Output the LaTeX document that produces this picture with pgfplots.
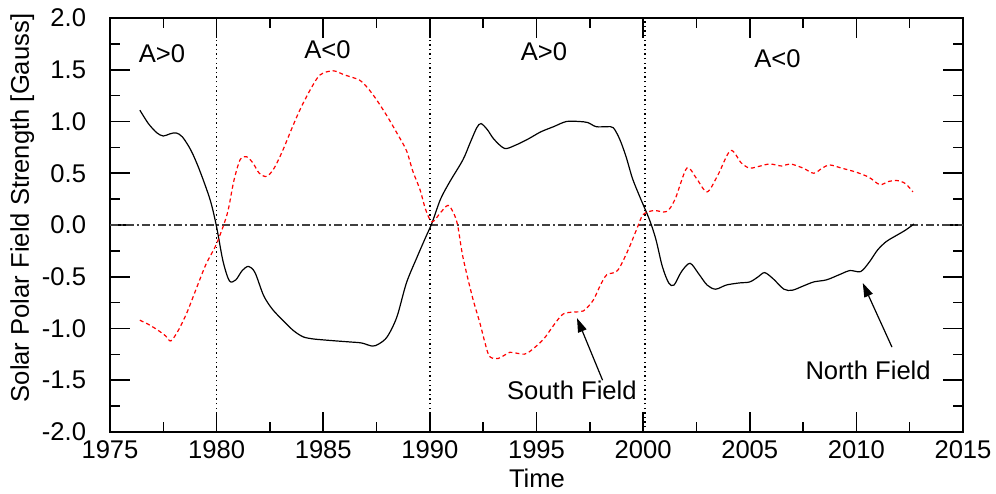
\documentclass[border=0pt]{standalone}
\usepackage{pgfplots}
\pgfplotsset{compat=1.18}
\usepackage{fontspec}
\setmainfont{Liberation Sans}
\usetikzlibrary{arrows.meta}
\newcommand{\chartfont}{\fontsize{12.8}{15}\selectfont}
\begin{document}
\chartfont
\begin{tikzpicture}
\begin{axis}[
  scale only axis, width=426.5pt, height=207pt,
  xmin=1975, xmax=2015, ymin=-2, ymax=2,
  xtick={1975,1980,...,2015}, ytick={-2,-1.5,...,2},
  minor x tick num=1, minor y tick num=1,
  tick align=inside, tick pos=both,
  major tick length=10pt, minor tick length=5pt,
  axis line style={line width=0.8pt}, every tick/.style={black, line width=0.8pt},
  /pgf/number format/assume math mode=true,
  xticklabel style={/pgf/number format/1000 sep={}, font=\chartfont},
  yticklabel style={/pgf/number format/fixed, /pgf/number format/fixed zerofill, /pgf/number format/precision=1, xshift=-7.5pt, font=\chartfont},
  xlabel={Time}, ylabel={Solar Polar Field Strength [Gauss]},
  xlabel style={at={(axis description cs:0.5006,-0.111)}, anchor=center, font=\chartfont},
  ylabel style={at={(axis description cs:-0.103,0.541)}, anchor=center, font=\chartfont},
  every node/.append style={font=\chartfont},
  clip=false,
]
% reference lines
\addplot[color=black!75, line width=0.7pt, dash pattern=on 4pt off 1.5pt on 1pt off 1.5pt] coordinates {(1975,0) (2015,0)};
\addplot[black, line width=0.8pt, dash pattern=on 0.7pt off 1.6pt] coordinates {(1980,-2) (1980,2)};
\addplot[black, line width=0.8pt, dash pattern=on 0.7pt off 1.6pt] coordinates {(1990,-2) (1990,2)};
\addplot[black, line width=0.8pt, dash pattern=on 0.7pt off 1.6pt] coordinates {(2000.1,-2) (2000.1,2)};
% North field
\addplot[black, line width=0.6pt, smooth, tension=0.5] coordinates {
(1976.4,1.11) (1976.8,0.98) (1977.2,0.89) (1977.5,0.86) (1977.8,0.88) (1978.1,0.89)
(1978.4,0.85) (1978.8,0.72) (1979.2,0.53) (1979.7,0.24) (1980.0,-0.02) (1980.3,-0.35)
(1980.6,-0.54) (1980.9,-0.53) (1981.2,-0.44) (1981.5,-0.40) (1981.8,-0.46) (1982.2,-0.68)
(1982.6,-0.81) (1983.1,-0.92) (1983.6,-1.02) (1984.05,-1.08) (1984.5,-1.10) (1985.0,-1.11)
(1985.6,-1.12) (1986.25,-1.13) (1986.8,-1.14) (1987.3,-1.17) (1987.6,-1.15) (1988.0,-1.08)
(1988.45,-0.89) (1988.9,-0.56) (1989.4,-0.31) (1989.8,-0.12) (1990.1,0.02) (1990.5,0.25)
(1990.94,0.42) (1991.55,0.63) (1991.9,0.80) (1992.2,0.94) (1992.4,0.98) (1992.7,0.92)
(1993.0,0.83) (1993.5,0.74) (1994.0,0.77) (1994.6,0.83) (1995.2,0.90) (1995.8,0.95)
(1996.4,1.00) (1997.0,1.00) (1997.4,0.99) (1997.8,0.95) (1998.3,0.95) (1998.6,0.94)
(1998.9,0.83) (1999.2,0.66) (1999.5,0.45) (1999.85,0.27) (2000.3,0.05) (2000.6,-0.14)
(2000.9,-0.40) (2001.2,-0.56) (2001.45,-0.58) (2001.8,-0.45) (2002.2,-0.37) (2002.6,-0.47)
(2003.0,-0.58) (2003.4,-0.62) (2003.9,-0.58) (2004.5,-0.56) (2005.0,-0.55) (2005.4,-0.50)
(2005.7,-0.46) (2006.1,-0.52) (2006.6,-0.62) (2007.0,-0.63) (2007.5,-0.59) (2008.0,-0.55)
(2008.6,-0.53) (2009.2,-0.48) (2009.7,-0.44) (2010.2,-0.45) (2010.6,-0.36) (2011.0,-0.24)
(2011.4,-0.16) (2011.8,-0.11) (2012.3,-0.05) (2012.7,0.01)
};
% South field
\addplot[red, line width=0.6pt, dash pattern=on 2pt off 1.5pt, smooth, tension=0.5] coordinates {
(1976.4,-0.92) (1976.8,-0.96) (1977.2,-1.01) (1977.6,-1.07) (1977.85,-1.12) (1978.2,-1.02)
(1978.6,-0.85) (1979.0,-0.64) (1979.5,-0.38) (1980.0,-0.18) (1980.5,0.11) (1980.8,0.42)
(1981.1,0.63) (1981.4,0.66) (1981.7,0.60) (1982.0,0.50) (1982.35,0.47) (1982.7,0.55)
(1983.1,0.72) (1983.5,0.92) (1983.9,1.11) (1984.4,1.31) (1984.85,1.45) (1985.46,1.49)
(1986.0,1.45) (1986.7,1.40) (1987.1,1.32) (1987.5,1.21) (1988.0,1.05) (1988.45,0.89)
(1988.9,0.72) (1989.2,0.52) (1989.54,0.34) (1989.8,0.15) (1990.1,0.03) (1990.5,0.12)
(1990.85,0.19) (1991.1,0.12) (1991.3,0.00) (1991.55,-0.31) (1992.0,-0.70) (1992.35,-0.95)
(1992.6,-1.15) (1992.8,-1.27) (1993.2,-1.29) (1993.75,-1.23) (1994.1,-1.24) (1994.55,-1.24)
(1995.3,-1.11) (1995.8,-0.97) (1996.25,-0.86) (1996.8,-0.84) (1997.2,-0.83) (1997.65,-0.73)
(1998.0,-0.58) (1998.3,-0.48) (1998.8,-0.44) (1999.3,-0.24) (1999.7,-0.04) (2000.0,0.10)
(2000.5,0.14) (2001.1,0.13) (2001.5,0.25) (2002.05,0.55) (2002.5,0.45) (2003.0,0.32)
(2003.5,0.48) (2004.1,0.72) (2004.6,0.60) (2005.0,0.55) (2005.5,0.57) (2005.95,0.59)
(2006.5,0.57) (2006.9,0.59) (2007.5,0.55) (2008.0,0.50) (2008.4,0.55) (2008.75,0.58)
(2009.3,0.55) (2010.0,0.51) (2010.6,0.46) (2011.1,0.39) (2011.5,0.42) (2011.9,0.43)
(2012.3,0.40) (2012.65,0.32)
};
% labels
\node at (axis cs:1977.44,1.66) {A>0};
\node at (axis cs:1985.2,1.69) {A<0};
\node at (axis cs:1995.35,1.67) {A>0};
\node at (axis cs:2006.3,1.61) {A<0};
\node at (axis cs:1996.66,-1.60) {South Field};
\node at (axis cs:2010.55,-1.40) {North Field};
\draw[black, line width=0.6pt, -{Triangle[length=7pt,width=4.5pt]}] (axis cs:1998.1,-1.50) -- (axis cs:1996.9,-0.90);
\draw[black, line width=0.6pt, -{Triangle[length=7pt,width=4.5pt]}] (axis cs:2011.67,-1.18) -- (axis cs:2010.3,-0.56);
\end{axis}
\pgfresetboundingbox
\path[use as bounding box] (-55pt,-30.5pt) rectangle (443pt,216pt);
\end{tikzpicture}
\end{document}
